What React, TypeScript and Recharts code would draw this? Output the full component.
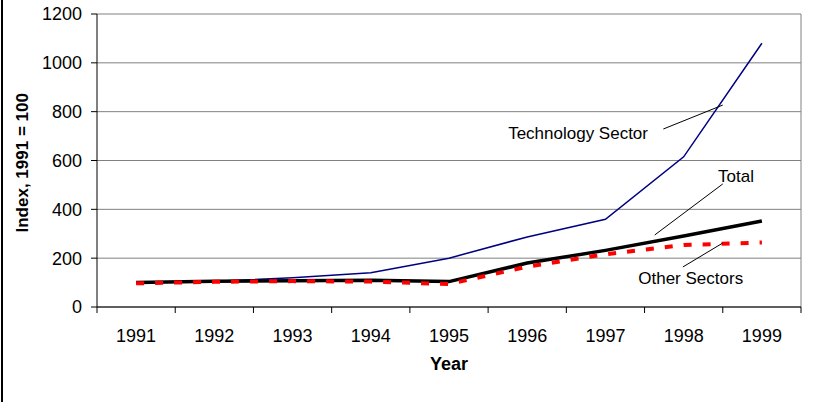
import { LineChart, Line, XAxis, YAxis, CartesianGrid, ReferenceLine, ReferenceDot } from "recharts";

const years = ["1991", "1992", "1993", "1994", "1995", "1996", "1997", "1998", "1999"];
const technology = [100, 105, 120, 140, 200, 287, 359, 615, 1080];
const total = [100, 105, 108, 110, 104, 180, 232, 291, 352];
const others = [97, 103, 106, 104, 94, 165, 216, 254, 264];
const yTicks = [0, 200, 400, 600, 800, 1000, 1200];

// callout labels and their leader lines, in data units (x = year index from 1)
const callouts = [
  { text: "Technology Sector", x: 6.65, y: 713, line: [7.74, 729, 8.5, 827] },
  { text: "Total", x: 8.67, y: 537, line: [8.5, 504, 7.63, 295] },
  { text: "Other Sectors", x: 8.09, y: 119, line: [7.99, 164, 8.5, 262] },
];

const data = years.map((year, i) => ({
  idx: i + 1,
  year,
  technology: technology[i],
  total: total[i],
  others: others[i],
}));

// ticks at category centres (labels) and boundaries (tick marks)
const xTicks: number[] = [];
for (let i = 0; i <= years.length; i++) {
  xTicks.push(i + 0.5);
  if (i < years.length) xTicks.push(i + 1);
}

const FONT = "Arial, 'Liberation Sans', sans-serif";

// eslint-disable-next-line @typescript-eslint/no-explicit-any
const YearTick = ({ x, y, payload }: any) => {
  const v = payload.value as number;
  if (Number.isInteger(v)) {
    return (
      <text x={x} y={y + 27} textAnchor="middle" fontSize={18} fontFamily={FONT} fill="#000">
        {years[v - 1]}
      </text>
    );
  }
  return <line x1={x} x2={x} y1={y - 8} y2={y - 2} stroke="#000" strokeWidth={1} />;
};

export default function App() {
  return (
    <div style={{ position: "absolute", left: 0, top: 0, width: 830, height: 402, background: "#fff" }}>
      <div style={{ position: "absolute", left: 1, top: 0, width: 1.5, height: 402, background: "#000" }} />
      <LineChart
        width={830}
        height={402}
        data={data}
        margin={{ top: 14, right: 29, left: 0, bottom: 0 }}
      >
        <CartesianGrid vertical={false} stroke="#808080" strokeWidth={1} />
        <XAxis
          dataKey="idx"
          type="number"
          domain={[0.5, 9.5]}
          ticks={xTicks}
          interval={0}
          height={95}
          tickLine={false}
          tickSize={6}
          tickMargin={2}
          axisLine={{ stroke: "#000" }}
          tick={<YearTick />}
          label={{ value: "Year", position: "insideTop", offset: 50, fontSize: 18, fontWeight: "bold", fontFamily: FONT, fill: "#000" }}
        />
        <YAxis
          domain={[0, 1200]}
          ticks={yTicks}
          width={97}
          tickSize={6}
          tickMargin={9}
          axisLine={{ stroke: "#000" }}
          tickLine={{ stroke: "#000" }}
          tick={{ fontSize: 18, fontFamily: FONT, fill: "#000" }}
          label={{ value: "Index, 1991 = 100", angle: -90, position: "insideLeft", offset: 22, dy: 72, fontSize: 17, fontWeight: "bold", fontFamily: FONT, fill: "#000" }}
        />
        <ReferenceLine x={9.5} stroke="#808080" strokeWidth={1} />
        <Line dataKey="technology" stroke="#000080" strokeWidth={1.5} dot={false} isAnimationActive={false} />
        <Line dataKey="total" stroke="#000" strokeWidth={3.5} dot={false} isAnimationActive={false} />
        <Line dataKey="others" stroke="#ff0000" strokeWidth={4} strokeDasharray="8 11" dot={false} isAnimationActive={false} />
        {callouts.map((c) => (
          <ReferenceLine
            key={c.text + "-line"}
            segment={[
              { x: c.line[0], y: c.line[1] },
              { x: c.line[2], y: c.line[3] },
            ]}
            stroke="#000"
            strokeWidth={1}
          />
        ))}
        {callouts.map((c) => (
          <ReferenceDot
            key={c.text}
            x={c.x}
            y={c.y}
            r={0}
            stroke="none"
            fill="none"
            label={{ value: c.text, position: "center", fontSize: 17, fontFamily: FONT, fill: "#000" }}
          />
        ))}
      </LineChart>
    </div>
  );
}
